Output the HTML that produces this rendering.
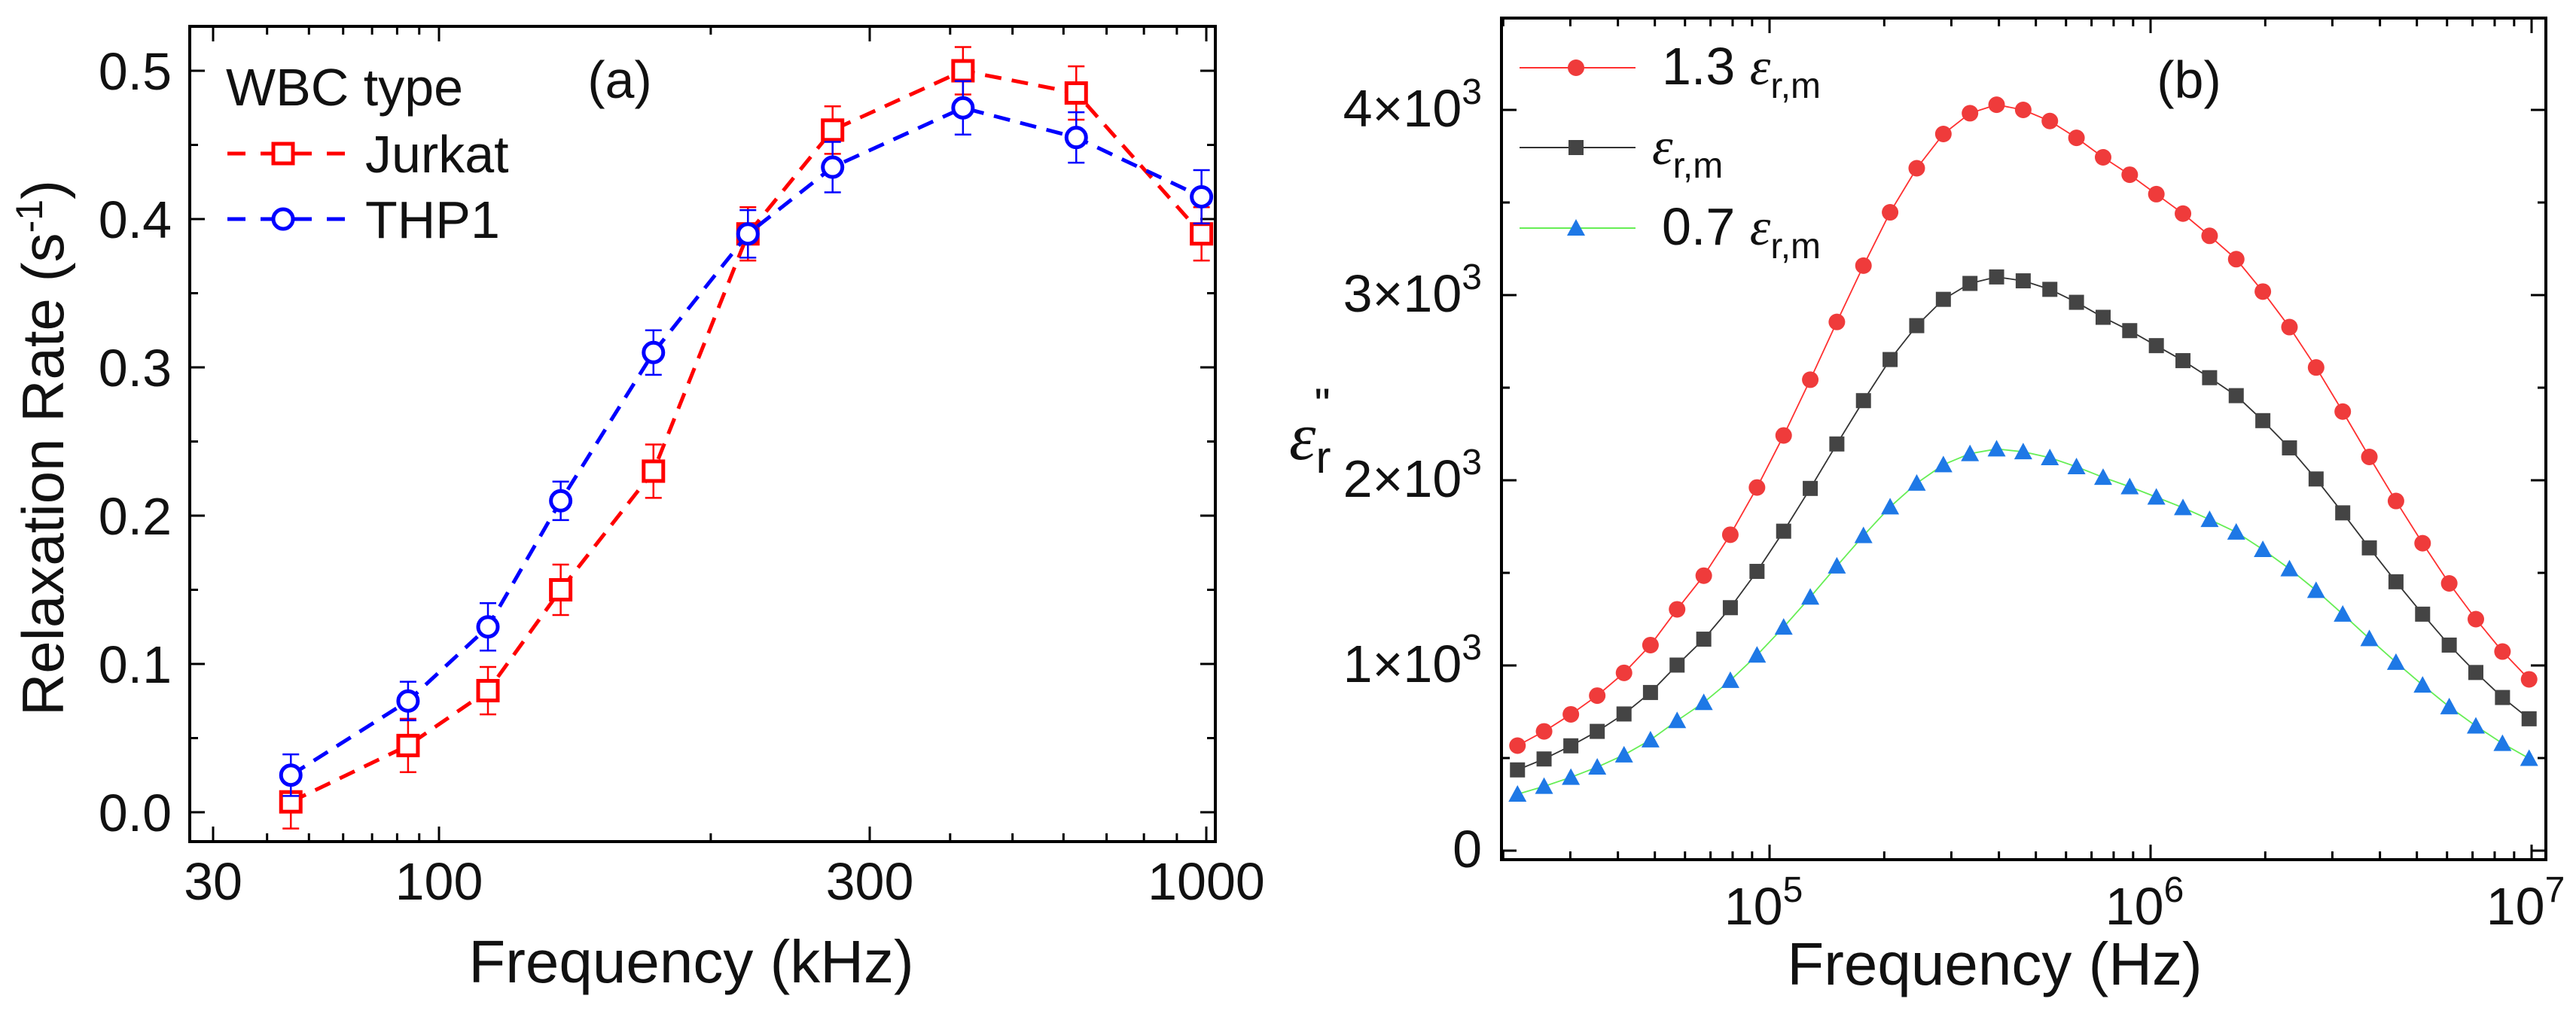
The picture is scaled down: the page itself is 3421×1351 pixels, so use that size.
<!DOCTYPE html>
<html><head><meta charset="utf-8"><style>
html,body{margin:0;padding:0;background:#fff;}
svg{display:block;font-family:"Liberation Sans",Arial,sans-serif;}
</style></head><body>
<svg id="fig" width="3421" height="1351" viewBox="0 0 3421 1351" xmlns="http://www.w3.org/2000/svg"></svg>
<script>
// ---------- Panel (a) data ----------
const aFreq = [45.4, 84.8, 113.3, 136.4, 172.8, 219.9, 272.9, 418.8, 628, 983];
const aJurkat = [0.007, 0.045, 0.082, 0.15, 0.23, 0.39, 0.46, 0.50, 0.485, 0.39];
const aJurkatErr = [0.018, 0.018, 0.016, 0.017, 0.018, 0.018, 0.016, 0.016, 0.018, 0.018];
const aTHP1 = [0.025, 0.075, 0.125, 0.21, 0.31, 0.39, 0.435, 0.475, 0.455, 0.415];
const aTHP1Err = [0.014, 0.013, 0.016, 0.013, 0.015, 0.016, 0.017, 0.018, 0.017, 0.018];
const aXTicks = [30, 100, 300, 1000];
const aXTickLabels = ["30", "100", "300", "1000"];
const aYTicks = [0, 0.1, 0.2, 0.3, 0.4, 0.5];
const aYTickLabels = ["0.0", "0.1", "0.2", "0.3", "0.4", "0.5"];
// ---------- Panel (b) data ----------
const bFreq = [21800,25600,30100,35300,41500,48700,57200,67200,78900,92700,108900,127900,150200,176400,207200,243400,285900,335800,394400,463200,544100,639100,750700,881700,1035600,1216400,1428800,1678200,1971100,2315200,2719400,3194200,3751800,4406800,5176100,6079700,7141100,8387800,9852100];
const bHigh = [567,644,736,837,960,1110,1303,1485,1706,1961,2242,2543,2855,3159,3447,3685,3870,3982,4028,4000,3940,3849,3744,3650,3545,3440,3320,3194,3019,2827,2609,2371,2126,1888,1660,1443,1250,1075,925];
const bMid = [436,495,566,644,738,854,1002,1142,1312,1508,1725,1956,2196,2430,2652,2835,2977,3063,3098,3077,3031,2961,2880,2808,2727,2646,2554,2457,2322,2175,2007,1824,1635,1452,1277,1110,962,827,712];
const bLow = [305,347,396,451,517,598,702,800,919,1056,1207,1369,1537,1701,1856,1984,2084,2144,2169,2154,2122,2073,2016,1965,1909,1852,1788,1720,1626,1522,1405,1277,1145,1017,894,777,673,579,498];
const bYTicks = [0, 1000, 2000, 3000, 4000];
const bXTicks = [5, 6, 7];

const NS = "http://www.w3.org/2000/svg";
const svg = document.getElementById("fig");
function el(tag, attrs, parent) {
  const e = document.createElementNS(NS, tag);
  for (const k in attrs) e.setAttribute(k, attrs[k]);
  (parent || svg).appendChild(e);
  return e;
}

// ===== Panel a =====
const A = {l:252, r:1614, t:35, b:1118};
const aAnchV = [30, 100, 300, 1000], aAnchP = [283, 583, 1155, 1602];
function ax(v) {
  const lv = Math.log10(v);
  let i = 0;
  if (v > aAnchV[2]) i = 2; else if (v > aAnchV[1]) i = 1;
  const l0 = Math.log10(aAnchV[i]), l1 = Math.log10(aAnchV[i+1]);
  return aAnchP[i] + (lv - l0) / (l1 - l0) * (aAnchP[i+1] - aAnchP[i]);
}
function ay(v) { return 1079 - v * 1970; }

const gA = el("g", {});


const frameA = el("rect", {x:A.l, y:A.t, width:A.r-A.l, height:A.b-A.t, fill:"none", stroke:"#000", "stroke-width":4}, gA);



const aMinor = [40,50,60,70,80,90,200,400,500,600,700,800,900];
aMinor.forEach(v => {
  const x = ax(v);
  el("line", {x1:x, x2:x, y1:A.b, y2:A.b-11, stroke:"#000","stroke-width":3}, gA);
  el("line", {x1:x, x2:x, y1:A.t, y2:A.t+11, stroke:"#000","stroke-width":3}, gA);
});
aXTicks.forEach((v, i) => {
  const x = ax(v);
  el("line", {x1:x, x2:x, y1:A.b, y2:A.b-20, stroke:"#000","stroke-width":3}, gA);
  el("line", {x1:x, x2:x, y1:A.t, y2:A.t+20, stroke:"#000","stroke-width":3}, gA);
  const t = el("text", {x:x, y:1195, "font-size":70, "text-anchor":"middle", fill:"#111"}, gA);
  t.textContent = aXTickLabels[i];
  
  
});
for (let k = 0; k <= 10; k++) {
  const v = k * 0.05, y = ay(v), len = (k % 2 === 0) ? 20 : 11;
  el("line", {x1:A.l, x2:A.l+len, y1:y, y2:y, stroke:"#000","stroke-width":3}, gA);
  el("line", {x1:A.r, x2:A.r-len, y1:y, y2:y, stroke:"#000","stroke-width":3}, gA);
}
aYTicks.forEach((v, i) => {
  const t = el("text", {x:228, y:ay(v)+25, "font-size":70, "text-anchor":"end", fill:"#111"}, gA);
  t.textContent = aYTickLabels[i];
  
  
});
const xtA = el("text", {x:918, y:1305, "font-size":80, "text-anchor":"middle", fill:"#111"}, gA);
xtA.textContent = "Frequency (kHz)";


const ytA = el("text", {x:0, y:0, "font-size":78, "text-anchor":"middle", fill:"#111", transform:"translate(86,590) rotate(-90)"}, gA);
ytA.setAttribute('transform', 'translate(84,595) rotate(-90)');
ytA.innerHTML = 'Relaxation Rate (s<tspan dy="-28" font-size="50">-1</tspan><tspan dy="28">)</tspan>';


const labA = el("text", {x:823, y:130, "font-size":70, "text-anchor":"middle", fill:"#111"}, gA);
labA.textContent = "(a)";



function drawSeriesA(vals, errs, color, shape, name) {
  const g = el("g", {}, gA);
  
  
  const pts = vals.map((v, i) => [ax(aFreq[i]), ay(v)]);
  const ln = el("polyline", {points: pts.map(p => p.join(",")).join(" "), fill:"none", stroke:color, "stroke-width":5, "stroke-dasharray":"22 14"}, g);
  
  
  vals.forEach((v, i) => {
    const x = pts[i][0], y = pts[i][1];
    const e = errs[i];
    const y1 = ay(v + e), y2 = ay(v - e);
    el("line", {x1:x, x2:x, y1:y1, y2:y2, stroke:color, "stroke-width":2.5}, g);
    el("line", {x1:x-11, x2:x+11, y1:y1, y2:y1, stroke:color, "stroke-width":2.5}, g);
    el("line", {x1:x-11, x2:x+11, y1:y2, y2:y2, stroke:color, "stroke-width":2.5}, g);
    let m;
    if (shape === "square") m = el("rect", {x:x-13, y:y-13, width:26, height:26, fill:"#fff", stroke:color, "stroke-width":5}, g);
    else m = el("circle", {cx:x, cy:y, r:13, fill:"#fff", stroke:color, "stroke-width":5}, g);
    
    
  });
}
drawSeriesA(aJurkat, aJurkatErr, "#ff0000", "square", "jurkat-series");
drawSeriesA(aTHP1, aTHP1Err, "#0000ff", "circle", "thp1-series");

const legA = el("g", {}, gA);


const lt = el("text", {x:300, y:140, "font-size":70, fill:"#111"}, legA);
lt.textContent = "WBC type";


[["Jurkat","#ff0000","square",204],["THP1","#0000ff","circle",291]].forEach(r => {
  const y = r[3];
  const g = el("g", {}, legA);
  
  
  el("line", {x1:302, x2:466, y1:y, y2:y, stroke:r[1], "stroke-width":5, "stroke-dasharray":"24 20"}, g);
  if (r[2] === "square") el("rect", {x:363, y:y-13, width:26, height:26, fill:"#fff", stroke:r[1], "stroke-width":5}, g);
  else el("circle", {cx:376, cy:y, r:13, fill:"#fff", stroke:r[1], "stroke-width":5}, g);
  const t = el("text", {x:485, y:y+25, "font-size":70, fill:"#111"}, g);
  t.textContent = r[0];
});

// ===== Panel b =====
const B = {l:1994, r:3381, t:24, b:1142};
function bx(f) { return 2350 + (Math.log10(f) - 5) * 506; }
function by(v) { return 1130 - v * 0.246; }
const gB = el("g", {});


const frameB = el("rect", {x:B.l, y:B.t, width:B.r-B.l, height:B.b-B.t, fill:"none", stroke:"#000", "stroke-width":4}, gB);


for (let d = 4; d <= 7; d++) {
  for (let m = 1; m <= 9; m++) {
    const f = m * Math.pow(10, d);
    const x = bx(f);
    if (x < B.l + 2 || x > B.r - 2) continue;
    const len = m === 1 ? 20 : 11;
    el("line", {x1:x, x2:x, y1:B.b, y2:B.b-len, stroke:"#000","stroke-width":3}, gB);
    el("line", {x1:x, x2:x, y1:B.t, y2:B.t+len, stroke:"#000","stroke-width":3}, gB);
  }
}
bXTicks.forEach(p => {
  const x = bx(Math.pow(10, p));
  const t = el("text", {x:x-8, y:1228, "font-size":70, "text-anchor":"middle", fill:"#111"}, gB);
  t.innerHTML = '10<tspan dy="-30" font-size="48">' + p + '</tspan>';
  
  
});
for (let k = 0; k <= 8; k++) {
  const y = by(k * 500), len = (k % 2 === 0) ? 20 : 11;
  el("line", {x1:B.l, x2:B.l+len, y1:y, y2:y, stroke:"#000","stroke-width":3}, gB);
  el("line", {x1:B.r, x2:B.r-len, y1:y, y2:y, stroke:"#000","stroke-width":3}, gB);
}
bYTicks.forEach(v => {
  const t = el("text", {x:1968, y:by(v)+22, "font-size":70, "text-anchor":"end", fill:"#111"}, gB);
  if (v === 0) t.textContent = "0";
  else t.innerHTML = (v/1000) + '×10<tspan dy="-30" font-size="48">3</tspan>';
  
  
});
const xtB = el("text", {x:2649, y:1308, "font-size":80, "text-anchor":"middle", fill:"#111"}, gB);
xtB.textContent = "Frequency (Hz)";


const ytB = el("text", {x:1712, y:610, "font-size":90, "font-style":"italic", fill:"#111", "font-family":"Liberation Serif, serif"}, gB);
ytB.innerHTML = 'ε<tspan font-size="60" dy="18" font-style="normal" font-family="Liberation Sans, sans-serif">r</tspan><tspan font-size="60" dx="-22" dy="-70" font-style="normal" font-family="Liberation Sans, sans-serif">"</tspan>';


const labB = el("text", {x:2907, y:130, "font-size":70, "text-anchor":"middle", fill:"#111"}, gB);
labB.textContent = "(b)";



function marker(g, shape, x, y, color) {
  if (shape === "circle") return el("circle", {cx:x, cy:y, r:11, fill:color}, g);
  if (shape === "square") return el("rect", {x:x-10, y:y-10, width:20, height:20, fill:color}, g);
  return el("polygon", {points:(x)+","+(y-12)+" "+(x-12)+","+(y+10)+" "+(x+12)+","+(y+10), fill:color}, g);
}
function drawSeriesB(vals, lineColor, color, shape, name) {
  const g = el("g", {}, gB);
  
  
  const pts = vals.map((v, i) => [bx(bFreq[i]), by(v)]);
  const ln = el("polyline", {points: pts.map(p => p.join(",")).join(" "), fill:"none", stroke:lineColor, "stroke-width":1.8}, g);
  
  
  pts.forEach(p => {
    const m = marker(g, shape, p[0], p[1], color);
    
    
  });
}
drawSeriesB(bHigh, "#ff3030", "#ef3b3b", "circle", "series-1-3-eps");
drawSeriesB(bMid, "#333", "#444444", "square", "series-eps");
drawSeriesB(bLow, "#66ee55", "#1e78e6", "triangle", "series-0-7-eps");

const legB = el("g", {}, gB);


[["1.3 ","#ff3030","#ef3b3b","circle",90,2207],["","#333","#444444","square",196,2194],["0.7 ","#66ee55","#1e78e6","triangle",303,2207]].forEach(r => {
  const g = el("g", {}, legB);
  
  
  el("line", {x1:2018, x2:2172, y1:r[4], y2:r[4], stroke:r[1], "stroke-width":2}, g);
  marker(g, r[3], 2093, r[4], r[2]);
  const t = el("text", {x:r[5], y:r[4]+22, "font-size":70, fill:"#111"}, g);
  t.innerHTML = r[0] + '<tspan font-style="italic" font-family="Liberation Serif, serif">ε</tspan><tspan font-size="48" dy="18">r,m</tspan>';
});
</script>
</body></html>
